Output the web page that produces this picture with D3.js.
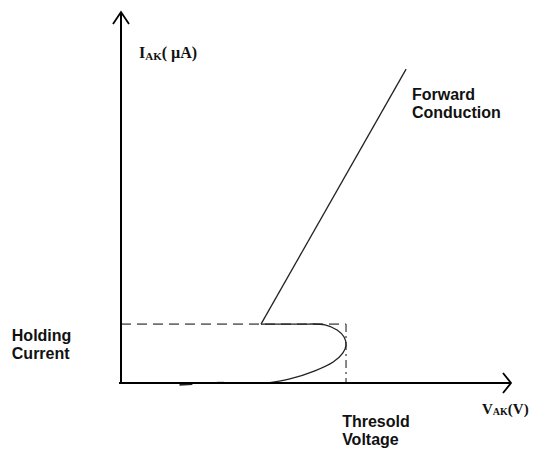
<!DOCTYPE html>
<html>
<head>
<meta charset="utf-8">
<script src="https://cdn.jsdelivr.net/npm/d3@7"></script>
<style>
    body { margin: 0; background: #fff; }
    .label { font-family: "Liberation Sans", Arial, sans-serif; font-weight: bold; font-size: 16px; fill: #111; }
    .axis-label { font-family: "Liberation Serif", "Times New Roman", serif; font-weight: bold; fill: #111; }
</style>
</head>
<body>
<div class="panel"></div>
<script>

// Data (arbitrary units: V on x, µA on y) //////////////

const holdingCurrent = 16;
const thresholdVoltage = 57.7;

const forwardLine = [
    [35.9, 16.0],
    [73.1, 85.3]
];

const blockingCurve = [
    [35.9, 16.0],
    [45.9, 16.0],
    [52.3, 15.8],
    [55.4, 14.4],
    [57.2, 12.5],
    [57.7, 10.3],
    [56.9, 8.2],
    [54.4, 5.7],
    [49.7, 3.3],
    [43.3, 1.1],
    [37.7, 0]
];

const axisMarks = [
    [[15.0, -0.5], [18.3, -0.3]],
    [[24.6, 0.1], [26.4, 0.1]]
];

const labels = [
    { lines: ["Forward", "Conduction"], x: 74.6, y: 76.8 },
    { lines: ["Holding", "Current"], x: -28.0, y: 11.4 },
    { lines: ["Thresold", "Voltage"], x: 56.7, y: -12.0 }
];

// Chart ////////////////////////////////////

const dim = { width: 537, height: 458 };

const svg = d3.select(".panel").append("svg")
    .attr("width", dim.width)
    .attr("height", dim.height);

const x = d3.scaleLinear().domain([0, 100]).range([121, 511]);
const y = d3.scaleLinear().domain([0, 100]).range([383, 15]);

const line = d3.line().x(d => x(d[0])).y(d => y(d[1]));

// Dashed guides

svg.append("line")
    .attr("x1", x(0)).attr("y1", y(holdingCurrent))
    .attr("x2", x(thresholdVoltage)).attr("y2", y(holdingCurrent))
    .attr("stroke", "#707070")
    .attr("stroke-width", 1.6)
    .attr("stroke-dasharray", "10,6");

svg.append("line")
    .attr("x1", x(thresholdVoltage)).attr("y1", y(holdingCurrent))
    .attr("x2", x(thresholdVoltage)).attr("y2", y(0))
    .attr("stroke", "#555")
    .attr("stroke-width", 1.4)
    .attr("stroke-dasharray", "8,4,2,4");

// Curves

svg.append("path")
    .attr("d", line(forwardLine))
    .attr("fill", "none")
    .attr("stroke", "#222")
    .attr("stroke-width", 1.3);

svg.append("path")
    .attr("d", line.curve(d3.curveCatmullRom)(blockingCurve))
    .attr("fill", "none")
    .attr("stroke", "#222")
    .attr("stroke-width", 1.3);

line.curve(d3.curveLinear);

svg.selectAll(".mark")
    .data(axisMarks)
    .join("path")
    .attr("class", "mark")
    .attr("d", d => line(d))
    .attr("stroke", "#222")
    .attr("stroke-width", 1.6);

// Axes

const axisG = svg.append("g")
    .attr("stroke", "#000")
    .attr("stroke-width", 2)
    .attr("fill", "none");

axisG.append("line")
    .attr("x1", x(0)).attr("y1", y(0))
    .attr("x2", x(0)).attr("y2", y(100) - 2);

axisG.append("line")
    .attr("x1", x(0) - 2).attr("y1", y(0))
    .attr("x2", x(100)).attr("y2", y(0));

axisG.append("path")
    .attr("stroke-width", 1.8)
    .attr("d", `M${x(0) - 8},${y(100) + 9} L${x(0)},${y(100) - 3} L${x(0) + 8},${y(100) + 9}`);

axisG.append("path")
    .attr("stroke-width", 1.8)
    .attr("d", `M${x(100) - 8},${y(0) - 10} L${x(100)},${y(0)} L${x(100) - 8},${y(0) + 10}`);

// Axis titles

const yTitle = svg.append("text")
    .attr("class", "axis-label")
    .attr("x", 139)
    .attr("y", 58)
    .attr("font-size", 16);
yTitle.append("tspan").text("I");
yTitle.append("tspan").attr("font-size", 11).attr("dy", 2).text("AK");
yTitle.append("tspan").attr("dy", -2).text("( µA)");

const xTitle = svg.append("text")
    .attr("class", "axis-label")
    .attr("x", 482)
    .attr("y", 414)
    .attr("font-size", 15);
xTitle.append("tspan").text("V");
xTitle.append("tspan").attr("font-size", 10).attr("dy", 1).text("AK");
xTitle.append("tspan").attr("dy", -1).text("(V)");

// Labels

svg.selectAll(".label")
    .data(labels)
    .join("text")
    .attr("class", "label")
    .attr("x", d => x(d.x))
    .attr("y", d => y(d.y))
    .selectAll("tspan")
    .data(d => d.lines.map(l => ({ l, x: x(d.x) })))
    .join("tspan")
    .attr("x", d => d.x)
    .attr("dy", (d, i) => i === 0 ? 0 : 18)
    .text(d => d.l);

</script>
</body>
</html>
